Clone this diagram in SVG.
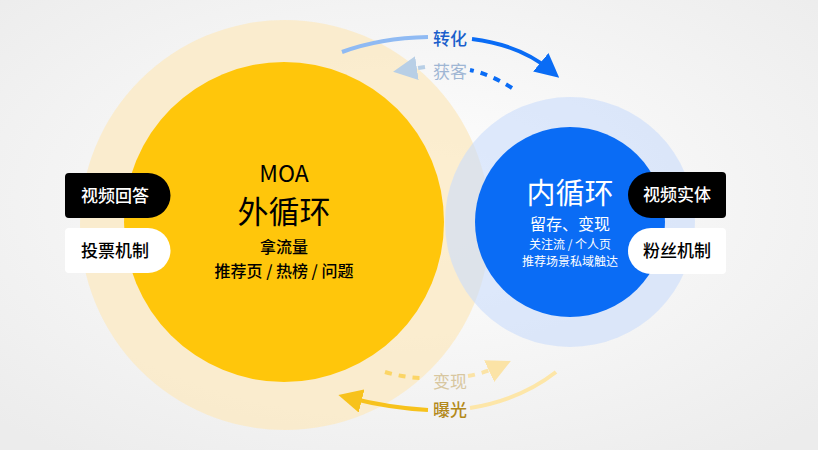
<svg xmlns="http://www.w3.org/2000/svg" width="818" height="450" viewBox="0 0 818 450">
<defs>
<radialGradient id="bg" cx="0.5" cy="0.45" r="0.7"><stop offset="0" stop-color="#ffffff"/><stop offset="1" stop-color="#ececec"/></radialGradient>
<marker id="ab" viewBox="0 0 10 10" refX="5" refY="5" markerWidth="6" markerHeight="6" orient="auto"><path d="M0,0L10,5L0,10z" fill="#0a6cf5"/></marker>
<marker id="abl" viewBox="0 0 10 10" refX="5" refY="5" markerWidth="6" markerHeight="6" orient="auto"><path d="M0,0L10,5L0,10z" fill="#b8cfe6"/></marker>
<marker id="ay" viewBox="0 0 10 10" refX="5" refY="5" markerWidth="6" markerHeight="6" orient="auto"><path d="M0,0L10,5L0,10z" fill="#f7c21c"/></marker>
<marker id="ayl" viewBox="0 0 10 10" refX="5" refY="5" markerWidth="6" markerHeight="6" orient="auto"><path d="M0,0L10,5L0,10z" fill="#fbe3a6"/></marker>
<style>
text{font-family:"Noto Sans CJK SC","Noto Sans",sans-serif;text-anchor:middle}
.w{fill:#fff}.pill{font-size:17px;font-weight:500}
</style>
</defs>
<rect width="818" height="450" fill="url(#bg)"/>
<g id="outer"><circle cx="285" cy="225" r="205" fill="#fbeac4" opacity="0.8"/><circle cx="284" cy="222" r="160" fill="#ffc60b"/>
<text x="284" y="182" font-size="23">MOA</text><text x="284" y="223" font-size="31">外循环</text><text x="284" y="253" font-size="16" font-weight="500">拿流量</text><text x="284" y="277" font-size="16" font-weight="500">推荐页 / 热榜 / 问题</text></g>
<g id="inner"><circle cx="570" cy="222" r="125" fill="#c9dcfb" opacity="0.6"/><circle cx="570" cy="222" r="95" fill="#0a6cf5"/>
<text class="w" x="570" y="204" font-size="29">内循环</text><text class="w" x="570" y="230" font-size="16">留存、变现</text><text class="w" x="570" y="249" font-size="12">关注流 / 个人页</text><text class="w" x="570" y="266" font-size="12">推荐场景私域触达</text></g>
<g id="p1"><path d="M69,173H148a22.5,22.5 0 0 1 0,45H69a4,4 0 0 1 -4,-4V177a4,4 0 0 1 4,-4z" fill="#000"/><text class="w pill" x="115" y="202">视频回答</text></g>
<g id="p2"><path d="M69,228H148a22.5,22.5 0 0 1 0,45H69a4,4 0 0 1 -4,-4V232a4,4 0 0 1 4,-4z" fill="#fff"/><text class="pill" x="115" y="257">投票机制</text></g>
<g id="p3"><path d="M722,172H651a23,23 0 0 0 0,46H722a4,4 0 0 0 4,-4V176a4,4 0 0 0 -4,-4z" fill="#000"/><text class="w pill" x="677" y="201">视频实体</text></g>
<g id="p4"><path d="M722,228H651a23,23 0 0 0 0,46H722a4,4 0 0 0 4,-4V232a4,4 0 0 0 -4,-4z" fill="#fff"/><text class="pill" x="677" y="257">粉丝机制</text></g>
<g id="connectors" fill="none" stroke-width="4">
<path d="M342,52Q380,38 428,37" stroke="#8fbaf3"/>
<path d="M472,39Q520,45 550,70" stroke="#0a6cf5" marker-end="url(#ab)"/>
<path d="M512,88Q490,74 470,70" stroke="#0a6cf5" stroke-dasharray="7,7"/>
<path d="M425,67L405,70" stroke="#b8cfe6" stroke-dasharray="7,7" marker-end="url(#abl)"/>
<path d="M385,372Q405,378 425,378" stroke="#fbd566" stroke-dasharray="7,7"/>
<path d="M468,376Q485,373 500,366" stroke="#fbe3a6" stroke-dasharray="7,7" marker-end="url(#ayl)"/>
<path d="M556,372Q520,400 470,408" stroke="#fde6a8"/>
<path d="M428,410Q390,408 350,398" stroke="#f7c21c" marker-end="url(#ay)"/>
</g>
<g id="labels"><text x="450" y="45" font-size="17" font-weight="500" fill="#1a5fcc">转化</text><text x="450" y="78" font-size="17" fill="#9fb6d4">获客</text><text x="450" y="388" font-size="17" fill="#d8c7a0">变现</text><text x="450" y="416" font-size="17" font-weight="500" fill="#b3891a">曝光</text></g>
</svg>
